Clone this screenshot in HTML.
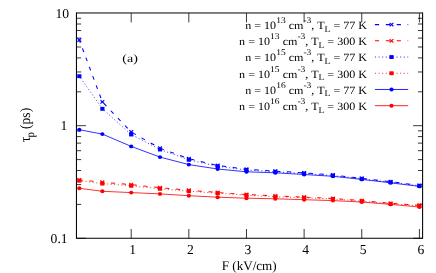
<!DOCTYPE html><html><head><meta charset="utf-8"><style>html,body{margin:0;padding:0;background:#fff}.t{font-family:"Liberation Serif",serif;fill:#000;text-rendering:geometricPrecision}</style></head><body><svg width="436" height="273" viewBox="0 0 436 273" style="display:block;will-change:transform">
<rect width="436" height="273" fill="#fff"/>
<g stroke="#000" stroke-width="0.78" fill="none">
<path d="M131.20 238.3 V229.0 M131.20 13.1 V22.4"/>
<path d="M188.84 238.3 V229.0 M188.84 13.1 V22.4"/>
<path d="M246.48 238.3 V229.0 M246.48 13.1 V22.4"/>
<path d="M304.12 238.3 V229.0 M304.12 13.1 V22.4"/>
<path d="M361.76 238.3 V229.0 M361.76 13.1 V22.4"/>
<path d="M419.40 238.3 V229.0 M419.40 13.1 V22.4"/>
<path d="M76.45 238.30 H85.95 M422.6 238.30 H413.1"/>
<path d="M76.45 204.40 H81.15 M422.6 204.40 H417.90000000000003"/>
<path d="M76.45 184.58 H81.15 M422.6 184.58 H417.90000000000003"/>
<path d="M76.45 170.51 H81.15 M422.6 170.51 H417.90000000000003"/>
<path d="M76.45 159.60 H81.15 M422.6 159.60 H417.90000000000003"/>
<path d="M76.45 150.68 H81.15 M422.6 150.68 H417.90000000000003"/>
<path d="M76.45 143.14 H81.15 M422.6 143.14 H417.90000000000003"/>
<path d="M76.45 136.61 H81.15 M422.6 136.61 H417.90000000000003"/>
<path d="M76.45 130.85 H81.15 M422.6 130.85 H417.90000000000003"/>
<path d="M76.45 125.70 H85.95 M422.6 125.70 H413.1"/>
<path d="M76.45 91.80 H81.15 M422.6 91.80 H417.90000000000003"/>
<path d="M76.45 71.98 H81.15 M422.6 71.98 H417.90000000000003"/>
<path d="M76.45 57.91 H81.15 M422.6 57.91 H417.90000000000003"/>
<path d="M76.45 47.00 H81.15 M422.6 47.00 H417.90000000000003"/>
<path d="M76.45 38.08 H81.15 M422.6 38.08 H417.90000000000003"/>
<path d="M76.45 30.54 H81.15 M422.6 30.54 H417.90000000000003"/>
<path d="M76.45 24.01 H81.15 M422.6 24.01 H417.90000000000003"/>
<path d="M76.45 18.25 H81.15 M422.6 18.25 H417.90000000000003"/>
</g>
<polyline transform="scale(1,0.89)" points="79.32,44.94 102.38,114.49 131.20,148.31 160.02,166.52 188.84,178.31 217.66,185.96 246.48,190.11 275.30,192.25 304.12,194.27 332.94,196.63 361.76,200.34 390.58,204.16 419.40,208.20" fill="none" stroke="#00f" stroke-width="1.08" stroke-dasharray="4.2 6.7" stroke-dashoffset="0.9"/>
<path d="M77.42 38.30 L81.22 41.70 M77.42 41.70 L81.22 38.30" stroke="#00f" stroke-width="1.15" fill="none"/>
<path d="M100.48 100.20 L104.28 103.60 M100.48 103.60 L104.28 100.20" stroke="#00f" stroke-width="1.15" fill="none"/>
<path d="M129.30 130.30 L133.10 133.70 M129.30 133.70 L133.10 130.30" stroke="#00f" stroke-width="1.15" fill="none"/>
<path d="M158.12 146.50 L161.92 149.90 M158.12 149.90 L161.92 146.50" stroke="#00f" stroke-width="1.15" fill="none"/>
<path d="M186.94 157.00 L190.74 160.40 M186.94 160.40 L190.74 157.00" stroke="#00f" stroke-width="1.15" fill="none"/>
<path d="M215.76 163.80 L219.56 167.20 M215.76 167.20 L219.56 163.80" stroke="#00f" stroke-width="1.15" fill="none"/>
<path d="M244.58 167.50 L248.38 170.90 M244.58 170.90 L248.38 167.50" stroke="#00f" stroke-width="1.15" fill="none"/>
<path d="M273.40 169.40 L277.20 172.80 M273.40 172.80 L277.20 169.40" stroke="#00f" stroke-width="1.15" fill="none"/>
<path d="M302.22 171.20 L306.02 174.60 M302.22 174.60 L306.02 171.20" stroke="#00f" stroke-width="1.15" fill="none"/>
<path d="M331.04 173.30 L334.84 176.70 M331.04 176.70 L334.84 173.30" stroke="#00f" stroke-width="1.15" fill="none"/>
<path d="M359.86 176.60 L363.66 180.00 M359.86 180.00 L363.66 176.60" stroke="#00f" stroke-width="1.15" fill="none"/>
<path d="M388.68 180.00 L392.48 183.40 M388.68 183.40 L392.48 180.00" stroke="#00f" stroke-width="1.15" fill="none"/>
<path d="M417.50 183.60 L421.30 187.00 M417.50 187.00 L421.30 183.60" stroke="#00f" stroke-width="1.15" fill="none"/>
<polyline transform="scale(1,0.89)" points="79.32,202.13 102.38,204.72 131.20,207.42 160.02,210.90 188.84,213.71 217.66,216.29 246.48,218.54 275.30,220.22 304.12,221.46 332.94,222.92 361.76,225.39 390.58,228.43 419.40,230.56" fill="none" stroke="#f00" stroke-width="1.08" stroke-dasharray="4.2 6.7" stroke-dashoffset="0.9"/>
<path d="M77.42 178.20 L81.22 181.60 M77.42 181.60 L81.22 178.20" stroke="#f00" stroke-width="1.15" fill="none"/>
<path d="M100.48 180.50 L104.28 183.90 M100.48 183.90 L104.28 180.50" stroke="#f00" stroke-width="1.15" fill="none"/>
<path d="M129.30 182.90 L133.10 186.30 M129.30 186.30 L133.10 182.90" stroke="#f00" stroke-width="1.15" fill="none"/>
<path d="M158.12 186.00 L161.92 189.40 M158.12 189.40 L161.92 186.00" stroke="#f00" stroke-width="1.15" fill="none"/>
<path d="M186.94 188.50 L190.74 191.90 M186.94 191.90 L190.74 188.50" stroke="#f00" stroke-width="1.15" fill="none"/>
<path d="M215.76 190.80 L219.56 194.20 M215.76 194.20 L219.56 190.80" stroke="#f00" stroke-width="1.15" fill="none"/>
<path d="M244.58 192.80 L248.38 196.20 M244.58 196.20 L248.38 192.80" stroke="#f00" stroke-width="1.15" fill="none"/>
<path d="M273.40 194.30 L277.20 197.70 M273.40 197.70 L277.20 194.30" stroke="#f00" stroke-width="1.15" fill="none"/>
<path d="M302.22 195.40 L306.02 198.80 M302.22 198.80 L306.02 195.40" stroke="#f00" stroke-width="1.15" fill="none"/>
<path d="M331.04 196.70 L334.84 200.10 M331.04 200.10 L334.84 196.70" stroke="#f00" stroke-width="1.15" fill="none"/>
<path d="M359.86 198.90 L363.66 202.30 M359.86 202.30 L363.66 198.90" stroke="#f00" stroke-width="1.15" fill="none"/>
<path d="M388.68 201.60 L392.48 205.00 M388.68 205.00 L392.48 201.60" stroke="#f00" stroke-width="1.15" fill="none"/>
<path d="M417.50 203.50 L421.30 206.90 M417.50 206.90 L421.30 203.50" stroke="#f00" stroke-width="1.15" fill="none"/>
<polyline transform="scale(1,0.89)" points="79.32,85.62 102.38,122.25 131.20,151.12 160.02,167.98 188.84,179.55 217.66,186.85 246.48,191.01 275.30,193.03 304.12,194.94 332.94,197.30 361.76,200.90 390.58,204.72 419.40,208.76" fill="none" stroke="#00f" stroke-width="0.8" stroke-dasharray="1.1 2.5" stroke-dashoffset="0.9"/>
<rect x="77.22" y="74.25" width="4.2" height="3.9" fill="#00f"/>
<rect x="100.28" y="106.85" width="4.2" height="3.9" fill="#00f"/>
<rect x="129.10" y="132.55" width="4.2" height="3.9" fill="#00f"/>
<rect x="157.92" y="147.55" width="4.2" height="3.9" fill="#00f"/>
<rect x="186.74" y="157.85" width="4.2" height="3.9" fill="#00f"/>
<rect x="215.56" y="164.35" width="4.2" height="3.9" fill="#00f"/>
<rect x="244.38" y="168.05" width="4.2" height="3.9" fill="#00f"/>
<rect x="273.20" y="169.85" width="4.2" height="3.9" fill="#00f"/>
<rect x="302.02" y="171.55" width="4.2" height="3.9" fill="#00f"/>
<rect x="330.84" y="173.65" width="4.2" height="3.9" fill="#00f"/>
<rect x="359.66" y="176.85" width="4.2" height="3.9" fill="#00f"/>
<rect x="388.48" y="180.25" width="4.2" height="3.9" fill="#00f"/>
<rect x="417.30" y="183.85" width="4.2" height="3.9" fill="#00f"/>
<polyline transform="scale(1,0.89)" points="79.32,203.03 102.38,206.29 131.20,208.76 160.02,212.13 188.84,214.83 217.66,217.08 246.48,219.33 275.30,221.01 304.12,222.13 332.94,223.60 361.76,225.96 390.58,228.99 419.40,231.24" fill="none" stroke="#f00" stroke-width="0.8" stroke-dasharray="1.1 2.5" stroke-dashoffset="0.9"/>
<rect x="77.22" y="178.75" width="4.2" height="3.9" fill="#f00"/>
<rect x="100.28" y="181.65" width="4.2" height="3.9" fill="#f00"/>
<rect x="129.10" y="183.85" width="4.2" height="3.9" fill="#f00"/>
<rect x="157.92" y="186.85" width="4.2" height="3.9" fill="#f00"/>
<rect x="186.74" y="189.25" width="4.2" height="3.9" fill="#f00"/>
<rect x="215.56" y="191.25" width="4.2" height="3.9" fill="#f00"/>
<rect x="244.38" y="193.25" width="4.2" height="3.9" fill="#f00"/>
<rect x="273.20" y="194.75" width="4.2" height="3.9" fill="#f00"/>
<rect x="302.02" y="195.75" width="4.2" height="3.9" fill="#f00"/>
<rect x="330.84" y="197.05" width="4.2" height="3.9" fill="#f00"/>
<rect x="359.66" y="199.15" width="4.2" height="3.9" fill="#f00"/>
<rect x="388.48" y="201.85" width="4.2" height="3.9" fill="#f00"/>
<rect x="417.30" y="203.85" width="4.2" height="3.9" fill="#f00"/>
<polyline transform="scale(1,0.89)" points="79.32,145.73 102.38,150.67 131.20,164.49 160.02,176.52 188.84,184.94 217.66,189.89 246.48,193.03 275.30,194.16 304.12,196.07 332.94,198.09 361.76,201.57 390.58,205.39 419.40,209.44" fill="none" stroke="#00f" stroke-width="0.85" stroke-dashoffset="0.9"/>
<ellipse cx="79.32" cy="129.70" rx="2.1" ry="1.95" fill="#00f"/>
<ellipse cx="102.38" cy="134.10" rx="2.1" ry="1.95" fill="#00f"/>
<ellipse cx="131.20" cy="146.40" rx="2.1" ry="1.95" fill="#00f"/>
<ellipse cx="160.02" cy="157.10" rx="2.1" ry="1.95" fill="#00f"/>
<ellipse cx="188.84" cy="164.60" rx="2.1" ry="1.95" fill="#00f"/>
<ellipse cx="217.66" cy="169.00" rx="2.1" ry="1.95" fill="#00f"/>
<ellipse cx="246.48" cy="171.80" rx="2.1" ry="1.95" fill="#00f"/>
<ellipse cx="275.30" cy="172.80" rx="2.1" ry="1.95" fill="#00f"/>
<ellipse cx="304.12" cy="174.50" rx="2.1" ry="1.95" fill="#00f"/>
<ellipse cx="332.94" cy="176.30" rx="2.1" ry="1.95" fill="#00f"/>
<ellipse cx="361.76" cy="179.40" rx="2.1" ry="1.95" fill="#00f"/>
<ellipse cx="390.58" cy="182.80" rx="2.1" ry="1.95" fill="#00f"/>
<ellipse cx="419.40" cy="186.40" rx="2.1" ry="1.95" fill="#00f"/>
<polyline transform="scale(1,0.89)" points="79.32,211.57 102.38,214.94 131.20,216.40 160.02,217.87 188.84,219.89 217.66,221.57 246.48,222.70 275.30,223.37 304.12,224.38 332.94,225.39 361.76,226.97 390.58,229.66 419.40,232.58" fill="none" stroke="#f00" stroke-width="0.85" stroke-dashoffset="0.9"/>
<ellipse cx="79.32" cy="188.30" rx="2.1" ry="1.95" fill="#f00"/>
<ellipse cx="102.38" cy="191.30" rx="2.1" ry="1.95" fill="#f00"/>
<ellipse cx="131.20" cy="192.60" rx="2.1" ry="1.95" fill="#f00"/>
<ellipse cx="160.02" cy="193.90" rx="2.1" ry="1.95" fill="#f00"/>
<ellipse cx="188.84" cy="195.70" rx="2.1" ry="1.95" fill="#f00"/>
<ellipse cx="217.66" cy="197.20" rx="2.1" ry="1.95" fill="#f00"/>
<ellipse cx="246.48" cy="198.20" rx="2.1" ry="1.95" fill="#f00"/>
<ellipse cx="275.30" cy="198.80" rx="2.1" ry="1.95" fill="#f00"/>
<ellipse cx="304.12" cy="199.70" rx="2.1" ry="1.95" fill="#f00"/>
<ellipse cx="332.94" cy="200.60" rx="2.1" ry="1.95" fill="#f00"/>
<ellipse cx="361.76" cy="202.00" rx="2.1" ry="1.95" fill="#f00"/>
<ellipse cx="390.58" cy="204.40" rx="2.1" ry="1.95" fill="#f00"/>
<ellipse cx="419.40" cy="207.00" rx="2.1" ry="1.95" fill="#f00"/>
<path d="M374.9 24.60 H408.2" stroke="#00f" stroke-width="1.08" fill="none" stroke-dasharray="4.2 6.7"/>
<path d="M389.60 22.90 L393.40 26.30 M389.60 26.30 L393.40 22.90" stroke="#00f" stroke-width="1.15" fill="none"/>
<text transform="translate(367.1,28.85) scale(0.923,0.8516)" text-anchor="end" font-size="13.1" class="t">n = 10<tspan dy="-6.9" font-size="10.3">13</tspan><tspan dy="6.9"> cm</tspan><tspan dy="-6.9" font-size="10.3">-3</tspan><tspan dy="6.9">, T</tspan><tspan dy="3.2" font-size="10.3">L</tspan><tspan dy="-3.2"> = 77 K</tspan></text>
<path d="M374.9 40.82 H408.2" stroke="#f00" stroke-width="1.08" fill="none" stroke-dasharray="4.2 6.7"/>
<path d="M389.60 39.12 L393.40 42.52 M389.60 42.52 L393.40 39.12" stroke="#f00" stroke-width="1.15" fill="none"/>
<text transform="translate(367.1,45.07) scale(0.923,0.8516)" text-anchor="end" font-size="13.1" class="t">n = 10<tspan dy="-6.9" font-size="10.3">13</tspan><tspan dy="6.9"> cm</tspan><tspan dy="-6.9" font-size="10.3">-3</tspan><tspan dy="6.9">, T</tspan><tspan dy="3.2" font-size="10.3">L</tspan><tspan dy="-3.2"> = 300 K</tspan></text>
<path d="M374.9 57.04 H408.2" stroke="#00f" stroke-width="0.8" fill="none" stroke-dasharray="1.1 2.5"/>
<rect x="389.40" y="55.09" width="4.2" height="3.9" fill="#00f"/>
<text transform="translate(367.1,61.29) scale(0.923,0.8516)" text-anchor="end" font-size="13.1" class="t">n = 10<tspan dy="-6.9" font-size="10.3">15</tspan><tspan dy="6.9"> cm</tspan><tspan dy="-6.9" font-size="10.3">-3</tspan><tspan dy="6.9">, T</tspan><tspan dy="3.2" font-size="10.3">L</tspan><tspan dy="-3.2"> = 77 K</tspan></text>
<path d="M374.9 73.26 H408.2" stroke="#f00" stroke-width="0.8" fill="none" stroke-dasharray="1.1 2.5"/>
<rect x="389.40" y="71.31" width="4.2" height="3.9" fill="#f00"/>
<text transform="translate(367.1,77.51) scale(0.923,0.8516)" text-anchor="end" font-size="13.1" class="t">n = 10<tspan dy="-6.9" font-size="10.3">15</tspan><tspan dy="6.9"> cm</tspan><tspan dy="-6.9" font-size="10.3">-3</tspan><tspan dy="6.9">, T</tspan><tspan dy="3.2" font-size="10.3">L</tspan><tspan dy="-3.2"> = 300 K</tspan></text>
<path d="M374.9 89.48 H408.2" stroke="#00f" stroke-width="0.85" fill="none"/>
<ellipse cx="391.50" cy="89.48" rx="2.1" ry="1.95" fill="#00f"/>
<text transform="translate(367.1,93.73) scale(0.923,0.8516)" text-anchor="end" font-size="13.1" class="t">n = 10<tspan dy="-6.9" font-size="10.3">16</tspan><tspan dy="6.9"> cm</tspan><tspan dy="-6.9" font-size="10.3">-3</tspan><tspan dy="6.9">, T</tspan><tspan dy="3.2" font-size="10.3">L</tspan><tspan dy="-3.2"> = 77 K</tspan></text>
<path d="M374.9 105.70 H408.2" stroke="#f00" stroke-width="0.85" fill="none"/>
<ellipse cx="391.50" cy="105.70" rx="2.1" ry="1.95" fill="#f00"/>
<text transform="translate(367.1,109.95) scale(0.923,0.8516)" text-anchor="end" font-size="13.1" class="t">n = 10<tspan dy="-6.9" font-size="10.3">16</tspan><tspan dy="6.9"> cm</tspan><tspan dy="-6.9" font-size="10.3">-3</tspan><tspan dy="6.9">, T</tspan><tspan dy="3.2" font-size="10.3">L</tspan><tspan dy="-3.2"> = 300 K</tspan></text>
<path d="M76.45 12.97 H422.6" stroke="#000" stroke-width="1.0" fill="none"/>
<path d="M76.45 12.6 V238.3 H422.6 V12.6" stroke="#000" stroke-width="1.05" fill="none" stroke-linejoin="miter"/>
<text x="132.70" y="254" text-anchor="middle" font-size="13.6" class="t">1</text>
<text x="190.34" y="254" text-anchor="middle" font-size="13.6" class="t">2</text>
<text x="247.98" y="254" text-anchor="middle" font-size="13.6" class="t">3</text>
<text x="305.62" y="254" text-anchor="middle" font-size="13.6" class="t">4</text>
<text x="363.26" y="254" text-anchor="middle" font-size="13.6" class="t">5</text>
<text x="420.90" y="254" text-anchor="middle" font-size="13.6" class="t">6</text>
<text x="69.1" y="18.05" text-anchor="end" font-size="13.6" class="t">10</text>
<text x="67.35" y="130.30" text-anchor="end" font-size="13.6" class="t">1</text>
<text x="67.6" y="242.90" text-anchor="end" font-size="13.6" class="t">0.1</text>
<text x="249.2" y="269.8" text-anchor="middle" font-size="13.1" class="t">F (kV/cm)</text>
<text transform="translate(130.1,61.9) scale(1,0.81)" text-anchor="middle" font-size="14" class="t">(a)</text>
<text transform="translate(30.0,125.1) rotate(-90) scale(1,1.06)" text-anchor="middle" font-size="13.6" class="t"><tspan font-size="14">τ</tspan><tspan dy="4" dx="-0.9" font-size="10.88">p</tspan><tspan dy="-4" dx="-0.2"> (ps)</tspan></text>
</svg></body></html>
